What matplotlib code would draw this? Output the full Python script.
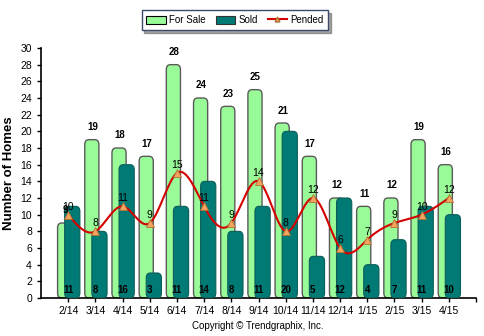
import numpy as np
import matplotlib
matplotlib.use("Agg")
import matplotlib.pyplot as plt
from matplotlib.patches import FancyBboxPatch
from matplotlib.lines import Line2D
from matplotlib.patches import Patch

plt.rcParams["font.family"] = ["Liberation Sans", "DejaVu Sans"]

# -----------------------------
# Monthly data
# -----------------------------
months = ["2/14", "3/14", "4/14", "5/14", "6/14", "7/14", "8/14", "9/14",
          "10/14", "11/14", "12/14", "1/15", "2/15", "3/15", "4/15"]
for_sale = [9, 19, 18, 17, 28, 24, 23, 25, 21, 17, 12, 11, 12, 19, 16]
sold = [11, 8, 16, 3, 11, 14, 8, 11, 20, 5, 12, 4, 7, 11, 10]
pended = [10, 8, 11, 9, 15, 11, 9, 14, 8, 12, 6, 7, 9, 10, 12]

SALE_COLOR = "#98FB98"
SOLD_COLOR = "#007A74"
LINE_COLOR = "#D40000"
MARK_COLOR = "#F4A460"


def natural_spline(x, y, n=30):
    # natural cubic spline through the points, for a smooth line
    x = np.asarray(x, float)
    y = np.asarray(y, float)
    k = len(x)
    h = np.diff(x)
    A = np.zeros((k, k))
    b = np.zeros(k)
    A[0, 0] = A[-1, -1] = 1
    for i in range(1, k - 1):
        A[i, i - 1] = h[i - 1]
        A[i, i] = 2 * (h[i - 1] + h[i])
        A[i, i + 1] = h[i]
        b[i] = 3 * ((y[i + 1] - y[i]) / h[i] - (y[i] - y[i - 1]) / h[i - 1])
    c = np.linalg.solve(A, b)
    xs, ys = [], []
    for i in range(k - 1):
        bi = (y[i + 1] - y[i]) / h[i] - h[i] * (2 * c[i] + c[i + 1]) / 3
        di = (c[i + 1] - c[i]) / (3 * h[i])
        t = np.linspace(0, h[i], n, endpoint=False)
        xs.append(x[i] + t)
        ys.append(y[i] + bi * t + c[i] * t ** 2 + di * t ** 3)
    xs.append([x[-1]])
    ys.append([y[-1]])
    return np.concatenate(xs), np.concatenate(ys)


fig = plt.figure(figsize=(4.84, 3.36), dpi=100)
ax = fig.add_axes([41 / 484, 1 - 298 / 336, 435 / 484, 250 / 336])

x = np.arange(len(months))
w_sale, w_sold = 0.52, 0.56
off_sale, off_sold = -0.13, 0.15

# listings bars (rounded tops), value above each
for xi, v in zip(x, for_sale):
    box = FancyBboxPatch((xi + off_sale - w_sale / 2, 0), w_sale, v,
                         boxstyle="round,pad=0,rounding_size=0.15",
                         mutation_aspect=4.0,
                         facecolor=SALE_COLOR, edgecolor="#5a5a5a",
                         linewidth=1.0, zorder=2)
    ax.add_patch(box)
    ax.text(xi + off_sale + 0.02, v + 0.9, str(v), ha="center", va="bottom",
            fontsize=7, fontweight="bold", zorder=6)

# sold bars in front, value along the bottom
for xi, v in zip(x, sold):
    box = FancyBboxPatch((xi + off_sold - w_sold / 2, 0), w_sold, v,
                         boxstyle="round,pad=0,rounding_size=0.15",
                         mutation_aspect=4.0,
                         facecolor=SOLD_COLOR, edgecolor="#0d5e59",
                         linewidth=0.8, zorder=3)
    ax.add_patch(box)
    ax.text(xi, 0.4, str(v), ha="center", va="bottom",
            fontsize=7, fontweight="bold", zorder=6)

# pended: smooth line with triangle markers
sx, sy = natural_spline(x, pended)
ax.plot(sx, sy, color=LINE_COLOR, linewidth=1.5, zorder=4)
ax.plot(x, pended, linestyle="none", marker="^", markersize=6,
        markerfacecolor=MARK_COLOR, markeredgecolor="#b07030",
        markeredgewidth=0.6, zorder=5)
for xi, v in zip(x, pended):
    ax.text(xi, v + 0.35, str(v), ha="center", va="bottom",
            fontsize=7.5, zorder=6)

ax.set_xlim(-1, 15)
ax.set_ylim(0, 30)
ax.set_yticks(range(0, 31, 2))
ax.set_xticks(x)
ax.set_xticklabels(months)
ax.set_xticks([15], minor=True)
ax.tick_params(axis="both", which="both", labelsize=7.5, length=3,
               width=1, color="black")
ax.tick_params(axis="x", pad=3)
for s in ["top", "right"]:
    ax.spines[s].set_visible(False)
for s in ["left", "bottom"]:
    ax.spines[s].set_linewidth(1.2)
ax.set_ylabel("Number of Homes", fontsize=9.5, fontweight="bold", labelpad=4)

handles = [
    Patch(facecolor=SALE_COLOR, edgecolor="black", linewidth=0.8, label="For Sale"),
    Patch(facecolor=SOLD_COLOR, edgecolor="#333333", linewidth=0.8, label="Sold"),
    Line2D([0], [0], color=LINE_COLOR, linewidth=1.5, marker="^",
           markersize=3.5, markerfacecolor=MARK_COLOR,
           markeredgecolor="#b07030", label="Pended"),
]
leg = fig.legend(handles=handles, loc="center", ncol=3,
                 bbox_to_anchor=(235 / 484, 1 - 20 / 336),
                 fontsize=7, frameon=True, fancybox=False, shadow=True,
                 handlelength=2.0, handleheight=0.9, columnspacing=1.0,
                 handletextpad=0.35, borderpad=0.5)
leg.get_frame().set_edgecolor("#3a4a6a")
leg.get_frame().set_linewidth(1.0)

fig.text(258 / 484, 1 - 326 / 336, "Copyright \u00a9 Trendgraphix, Inc.",
         ha="center", va="center", fontsize=7)

fig.savefig("out.png", dpi=100)
